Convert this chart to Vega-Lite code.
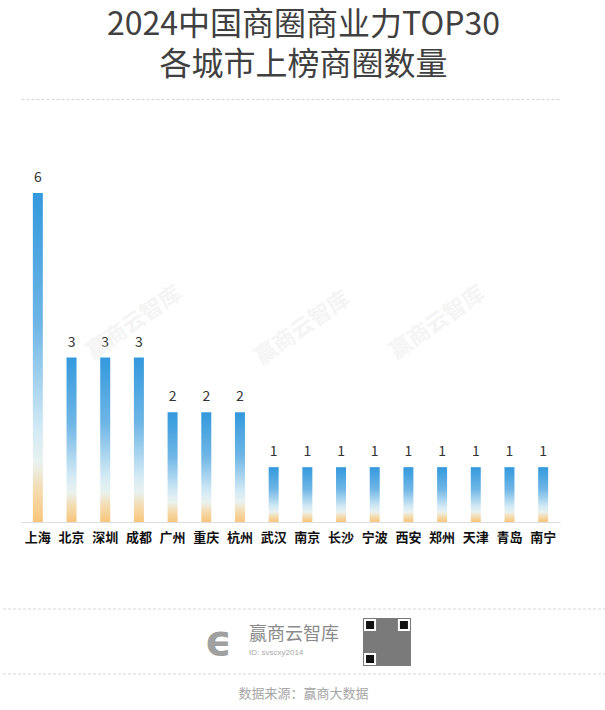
{
  "$schema": "https://vega.github.io/schema/vega-lite/v6.json",
  "background": "white",
  "padding": {"top": 9, "left": 0, "right": 0, "bottom": 0},
  "title": {
    "text": ["2024中国商圈商业力TOP30", "各城市上榜商圈数量"],
    "font": "Noto Sans CJK SC",
    "fontSize": 32,
    "lineHeight": 40,
    "fontWeight": "normal",
    "color": "#404040",
    "anchor": "middle",
    "frame": "group",
    "offset": 17
  },
  "spacing": 64,
  "config": {
    "view": {"stroke": null},
    "font": "Noto Sans CJK SC"
  },
  "vconcat": [
    {
      "width": 605,
      "height": 423,
      "data": {
        "values": [
          {"city": "上海", "count": 6},
          {"city": "北京", "count": 3},
          {"city": "深圳", "count": 3},
          {"city": "成都", "count": 3},
          {"city": "广州", "count": 2},
          {"city": "重庆", "count": 2},
          {"city": "杭州", "count": 2},
          {"city": "武汉", "count": 1},
          {"city": "南京", "count": 1},
          {"city": "长沙", "count": 1},
          {"city": "宁波", "count": 1},
          {"city": "西安", "count": 1},
          {"city": "郑州", "count": 1},
          {"city": "天津", "count": 1},
          {"city": "青岛", "count": 1},
          {"city": "南宁", "count": 1}
        ]
      },
      "encoding": {
        "x": {
          "field": "city",
          "type": "nominal",
          "sort": null,
          "scale": {"range": [20, 559], "paddingInner": 0, "paddingOuter": 0},
          "axis": {
            "title": null,
            "labelAngle": 0,
            "ticks": false,
            "domainColor": "#dedede",
            "labelFontSize": 13,
            "labelFontWeight": "bold",
            "labelColor": "#111111",
            "labelPadding": 9,
            "labelFont": "Noto Sans CJK SC"
          }
        },
        "y": {
          "field": "count",
          "type": "quantitative",
          "scale": {"domain": [0, 7.715], "nice": false, "zero": true},
          "axis": {
            "values": [7.715],
            "grid": true,
            "gridDash": [3, 2],
            "gridColor": "#d6d6d6",
            "gridWidth": 1,
            "labels": false,
            "ticks": false,
            "domain": false,
            "title": null,
            "minExtent": 0,
            "maxExtent": 0
          }
        }
      },
      "layer": [
        {
          "mark": {
            "type": "bar",
            "width": 10,
            "color": {
              "gradient": "linear",
              "x1": 0, "y1": 0, "x2": 0, "y2": 1,
              "stops": [
                {"offset": 0, "color": "#3399dd"},
                {"offset": 0.4, "color": "#6fb6e6"},
                {"offset": 0.72, "color": "#d3eaf5"},
                {"offset": 0.82, "color": "#e9f2ef"},
                {"offset": 0.9, "color": "#f4dcb1"},
                {"offset": 1, "color": "#f8c57a"}
              ]
            }
          }
        },
        {
          "mark": {"type": "text", "baseline": "bottom", "dy": -8, "fontSize": 14, "color": "#333333", "font": "Noto Sans CJK SC"},
          "encoding": {"text": {"field": "count", "type": "quantitative"}}
        },
        {
          "data": {"values": [{"wm": "赢商云智库", "city": "成都", "count": 3.7}, {"wm": "赢商云智库", "city": "南京", "count": 3.6}, {"wm": "赢商云智库", "city": "郑州", "count": 3.7}]},
          "mark": {"type": "text", "angle": 325, "fontSize": 22, "fontWeight": "bold", "color": "#e8e8e8", "opacity": 0.45, "align": "center", "baseline": "middle", "dx": -6},
          "encoding": {"text": {"field": "wm"}}
        }
      ]
    },
    {
      "width": 605,
      "height": 102,
      "layer": [
        {
          "data": {"values": [{}]},
          "mark": {"type": "rule", "strokeDash": [3, 2], "color": "#d6d6d6", "strokeWidth": 1},
          "encoding": {"y": {"datum": 1, "type": "quantitative", "scale": {"domain": [0, 1], "nice": false}, "axis": null}}
        },
        {
          "data": {"values": [{}]},
          "mark": {"type": "rule", "strokeDash": [3, 2], "color": "#d6d6d6", "strokeWidth": 1},
          "encoding": {"y": {"datum": 0.363, "type": "quantitative", "scale": {"domain": [0, 1], "nice": false}, "axis": null}}
        },
        {
          "data": {"values": [{"label": "ϵ"}]},
          "mark": {"type": "text", "fontSize": 42, "fontWeight": "bold", "color": "#a0a0a0", "align": "center", "baseline": "middle", "font": "DejaVu Sans"},
          "encoding": {
            "x": {"datum": 35.9, "type": "quantitative", "scale": {"domain": [0, 100], "nice": false}, "axis": null},
            "y": {"datum": 0.68, "type": "quantitative", "scale": {"domain": [0, 1], "nice": false}, "axis": null},
            "text": {"field": "label"}
          }
        },
        {
          "data": {"values": [{"label": "赢商云智库"}]},
          "mark": {"type": "text", "fontSize": 18, "color": "#8a8a8a", "align": "left", "baseline": "middle"},
          "encoding": {
            "x": {"datum": 41.0, "type": "quantitative", "scale": {"domain": [0, 100], "nice": false}, "axis": null},
            "y": {"datum": 0.745, "type": "quantitative", "scale": {"domain": [0, 1], "nice": false}, "axis": null},
            "text": {"field": "label"}
          }
        },
        {
          "data": {"values": [{"label": "ID: svscxy2014"}]},
          "mark": {"type": "text", "fontSize": 8, "color": "#a8a8a8", "align": "left", "baseline": "middle", "font": "Liberation Sans"},
          "encoding": {
            "x": {"datum": 41.0, "type": "quantitative", "scale": {"domain": [0, 100], "nice": false}, "axis": null},
            "y": {"datum": 0.569, "type": "quantitative", "scale": {"domain": [0, 1], "nice": false}, "axis": null},
            "text": {"field": "label"}
          }
        },
        {
          "data": {"values": [{}]},
          "mark": {"type": "square", "size": 2304, "filled": true, "color": "#7a7a7a", "opacity": 1},
          "encoding": {
            "x": {"datum": 63.8, "type": "quantitative", "scale": {"domain": [0, 100], "nice": false}, "axis": null},
            "y": {"datum": 0.676, "type": "quantitative", "scale": {"domain": [0, 1], "nice": false}, "axis": null}
          }
        },
        {
          "data": {"values": [{"px": 61.0, "py": 0.843}, {"px": 66.6, "py": 0.843}, {"px": 61.0, "py": 0.51}]},
          "mark": {"type": "square", "size": 100, "filled": true, "color": "#111111", "stroke": "#ffffff", "strokeWidth": 2, "opacity": 1},
          "encoding": {
            "x": {"field": "px", "type": "quantitative", "scale": {"domain": [0, 100], "nice": false}, "axis": null},
            "y": {"field": "py", "type": "quantitative", "scale": {"domain": [0, 1], "nice": false}, "axis": null}
          }
        },
        {
          "data": {"values": [{"label": "数据来源：赢商大数据"}]},
          "mark": {"type": "text", "fontSize": 13, "color": "#a6a6a6", "align": "center", "baseline": "middle"},
          "encoding": {
            "x": {"datum": 50, "type": "quantitative", "scale": {"domain": [0, 100], "nice": false}, "axis": null},
            "y": {"datum": 0.167, "type": "quantitative", "scale": {"domain": [0, 1], "nice": false}, "axis": null},
            "text": {"field": "label"}
          }
        }
      ]
    }
  ]
}
